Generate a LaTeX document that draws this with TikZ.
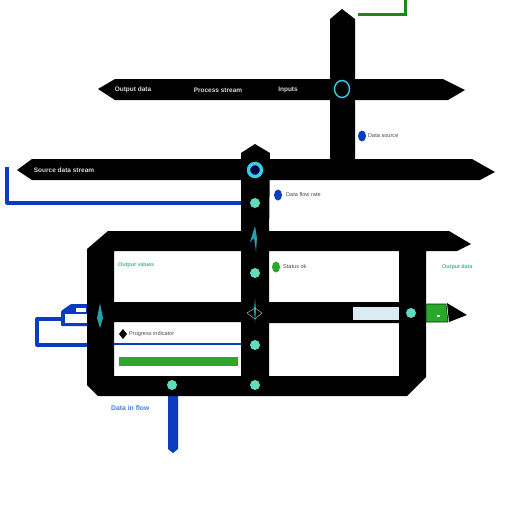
\documentclass[tikz,border=0pt]{standalone}
\usepackage{fontspec}
\usetikzlibrary{shapes.geometric}
\setmainfont{Liberation Sans}
\definecolor{mint}{HTML}{5FDCC0}
\definecolor{ringc}{HTML}{38D0E8}
\definecolor{bluec}{HTML}{0A3CC0}
\definecolor{greenc}{HTML}{2AA82A}
\definecolor{lineg}{HTML}{1A8A1A}
\definecolor{txtg}{HTML}{45B888}
\definecolor{txtb}{HTML}{3C80E8}
\begin{document}
\begin{tikzpicture}[x=1pt,y=-1pt,
  port/.style={circle,fill=mint,draw=none,minimum size=10pt,inner sep=0pt},
  ring/.style={ellipse,draw=ringc,fill=#1,inner sep=0pt},
  wtxt/.style={text=white!85!black,font=\bfseries\fontsize{6.5}{7}\selectfont,inner sep=0pt},
  dtxt/.style={text=black!70,font=\fontsize{5.6}{6}\selectfont,inner sep=0pt,anchor=west},
  gtxt/.style={text=txtg,font=\bfseries\fontsize{5.4}{6}\selectfont,inner sep=0pt,anchor=west},
  btxt/.style={text=txtb,font=\bfseries\fontsize{6.8}{7}\selectfont,inner sep=0pt,anchor=west},
  pin/.style={ellipse,fill=#1,draw=none,minimum width=8pt,minimum height=11pt,inner sep=0pt},
  bluew/.style={draw=bluec,line width=3.2pt,line join=round},
  spike/.style={fill=ringc!75!black,draw=none}]
\useasboundingbox (0,0) rectangle (512,512);
\fill[white] (0,0) rectangle (512,512);

% blue and green connectors behind the black body
\coordinate (gA) at (358,14); \coordinate (gB) at (405,14); \coordinate (gC) at (405,0);
\draw[draw=lineg,line width=3pt] (gA) -- (gB) -- (gC);
\coordinate (bA) at (7,167); \coordinate (bB) at (7,203); \coordinate (bC) at (245,203);
\draw[bluew] (bA) -- (bB) -- (bC);
\coordinate (lA) at (90,345); \coordinate (lB) at (37,345); \coordinate (lC) at (37,319); \coordinate (lD) at (65,319);
\draw[bluew] (lA) -- (lB) -- (lC) -- (lD);
\fill[bluec,rounded corners=1pt] (61,326) -- (61,311) -- (71,304) -- (90,304) -- (90,326) -- cycle;
\fill[white] (65,314) rectangle (88,323);
\fill[white] (76,308) rectangle (86,312);
\fill[bluec] (168,392) -- (178,392) -- (178,449) -- (173,453) -- (168,449) -- cycle;

% black body
\fill[black] (330,100) -- (330,19) -- (342,9) -- (355,19) -- (355,165) -- (330,165) -- cycle;
\fill[black] (98,89) -- (115,79) -- (443,79) -- (465,90) -- (448,100) -- (115,100) -- cycle;
\fill[black] (17,170) -- (32,159) -- (472,159) -- (495,172) -- (480,180) -- (32,180) -- cycle;
\fill[black] (241,240) -- (241,153) -- (255,144) -- (270,153) -- (269,240) -- cycle;
\fill[black,even odd rule]
  (87,249) -- (108,231) -- (449,231) -- (471,244) -- (457,251) -- (426,251) -- (426,377) -- (407,396) -- (98,396) -- (87,385) -- cycle
  (114,251) rectangle (241,302)
  (114,322) rectangle (241,376)
  (269,251) rectangle (399,302)
  (269,323) rectangle (399,376);
\fill[black] (447,303) -- (467,315) -- (449,322) -- cycle;
\fill[greenc,draw=black!70!lineg,line width=.6pt] (426,304) -- (446,304) -- (448,322) -- (426,322) -- cycle;
\fill[white] (437,315) rectangle (440,317);
\fill[black!5!cyan!12!white!90!gray,draw=none] (353,307) rectangle (399,320);

% inside the lower-left window
\coordinate (inA) at (114,344); \coordinate (inB) at (241,344);
\draw[draw=bluec,line width=2.2pt] (inA) -- (inB);
\fill[greenc] (119,357) rectangle (238,366);
\fill[black] (123,329) -- (127,334) -- (123,339) -- (119,334) -- cycle;

% ports and rings
\node[port] (p1) at (255,203) {};
\node[port] (p2) at (255,273) {};
\node[port] (p3) at (255,345) {};
\node[port] (p4) at (255,385) {};
\node[port] (p5) at (172,385) {};
\node[port] (p6) at (411,313) {};
\node[ring={black!75!blue},minimum size=13pt,line width=3.4pt] (r1) at (255,170) {};
\node[ring=black,minimum width=15pt,minimum height=17pt,line width=1.4pt] (r2) at (342,89) {};

% spikes
\fill[spike] (255,226) -- (257,238) -- (256,252) -- (254,238) -- (250,242) -- cycle;
\fill[spike] (100,303) -- (103,318) -- (100,328) -- (97,318) -- cycle;
\fill[spike] (255,298) -- (256,310) -- (255,323) -- (254,310) -- cycle;
\draw[white!70!black,line width=.5pt] (247,313) -- (255,308) -- (262,313) -- (255,319) -- cycle;

% labels
\node[wtxt] (t1) at (133,90) {Output data};
\node[wtxt] (t2) at (218,90) {Process stream};
\node[wtxt] (t3) at (288,90) {Inputs};
\node[wtxt] (t4) at (64,170) {Source data stream};
\node[pin=bluec] (d1) at (362,136) {};
\node[dtxt] (t5) at (368,136) {Data source};
\node[pin=bluec] (d2) at (278,195) {};
\node[dtxt] (t6) at (286,194) {Data flow rate};
\node[pin=greenc] (d3) at (276,267) {};
\node[dtxt] (t7) at (283,266) {Status ok};
\node[gtxt] (t8) at (118,265) {Output values};
\node[gtxt] (t9) at (442,267) {Output data};
\node[dtxt] (t10) at (129,334) {Progress indicator};
\node[btxt] (t11) at (111,408) {Data in flow};
\end{tikzpicture}
\end{document}
